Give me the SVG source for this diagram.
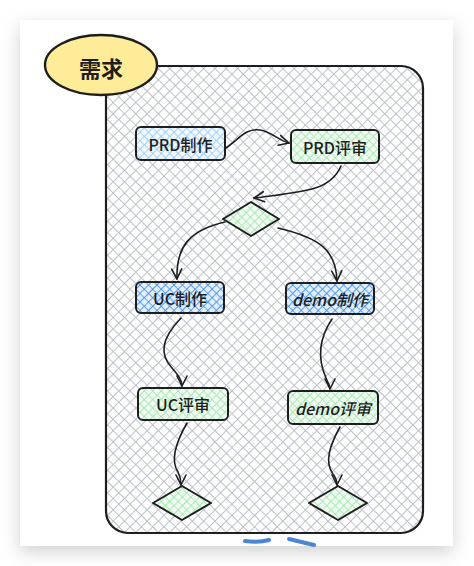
<svg xmlns="http://www.w3.org/2000/svg" width="474" height="566" viewBox="0 0 474 566">
  <defs>
    <filter id="shadow" x="-20%" y="-20%" width="140%" height="140%">
      <feDropShadow dx="0" dy="6" stdDeviation="9" flood-color="#000" flood-opacity="0.18"/>
    </filter>
    <pattern id="hatchGray" width="8" height="8" patternUnits="userSpaceOnUse" patternTransform="rotate(45)">
      <path d="M0,0 H8 M0,0 V8" stroke="#bcc2cb" stroke-width="2" fill="none"/>
    </pattern>
    <pattern id="hatchLightBlue" width="6" height="6" patternUnits="userSpaceOnUse" patternTransform="rotate(45)">
      <rect width="6" height="6" fill="#f2f8fe"/>
      <path d="M0,0 H6 M0,0 V6" stroke="#8ec8fa" stroke-width="1.6" fill="none"/>
    </pattern>
    <pattern id="hatchBlue" width="6" height="6" patternUnits="userSpaceOnUse" patternTransform="rotate(45)">
      <rect width="6" height="6" fill="#e2eefc"/>
      <path d="M0,0 H6 M0,0 V6" stroke="#3a8eef" stroke-width="1.7" fill="none"/>
    </pattern>
    <pattern id="hatchGreen" width="6" height="6" patternUnits="userSpaceOnUse" patternTransform="rotate(45)">
      <rect width="6" height="6" fill="#f2fbf3"/>
      <path d="M0,0 H6 M0,0 V6" stroke="#98e6a4" stroke-width="1.6" fill="none"/>
    </pattern>
    <marker id="arrow" viewBox="0 0 12 12" refX="11" refY="6" markerWidth="12" markerHeight="12" markerUnits="userSpaceOnUse" orient="auto">
      <path d="M1,1 L11,6 L1,11" fill="none" stroke="#1e1e1e" stroke-width="1.6" stroke-linecap="round" stroke-linejoin="round"/>
    </marker>
    <style>
      .node rect, .node path { stroke: #1e1e1e; stroke-width: 2; }
      .label { font-family: "Noto Sans CJK SC", "Noto Sans", sans-serif; font-size: 16px; font-weight: 500; fill: #1e1e1e; text-anchor: middle; dominant-baseline: central; }
      .conn path { fill: none; stroke: #1e1e1e; stroke-width: 1.6; stroke-linecap: round; }
    </style>
  </defs>

  <rect x="0" y="0" width="474" height="566" fill="#ffffff"/>
  <rect x="20" y="20" width="433" height="526" fill="#ffffff" filter="url(#shadow)"/>

  <g id="container">
    <rect x="106" y="66" width="317" height="467" rx="22" fill="url(#hatchGray)" stroke="#1e1e1e" stroke-width="2.2"/>
  </g>

  <g id="title">
    <ellipse cx="101" cy="65" rx="56" ry="30" fill="#ffec99" stroke="#1e1e1e" stroke-width="2.4"/>
    <text x="101" y="67" class="label" style="font-size:22px;font-weight:bold;">需求</text>
  </g>

  <g class="conn" id="connectors">
    <path d="M226,148 C240,138 246,128 260,130 C272,132 278,140 289,143" marker-end="url(#arrow)"/>
    <path d="M341,166 C330,192 300,192 254,198" marker-end="url(#arrow)"/>
    <path d="M225,222 C190,230 176,246 177,279" marker-end="url(#arrow)"/>
    <path d="M278,228 C320,238 336,250 337,281" marker-end="url(#arrow)"/>
    <path d="M181,318 C160,340 160,355 172,368 C178,375 182,380 182,386" marker-end="url(#arrow)"/>
    <path d="M332,319 C318,340 318,360 326,378 C328,383 330,386 330,389" marker-end="url(#arrow)"/>
    <path d="M187,423 C176,442 170,460 178,472 C180,476 181,480 181,485" marker-end="url(#arrow)"/>
    <path d="M340,427 C330,445 324,462 333,474 C336,478 337,482 337,485" marker-end="url(#arrow)"/>
  </g>

  <g id="prd-make" class="node">
    <rect x="136" y="127" width="89" height="33" rx="5" fill="url(#hatchLightBlue)"/>
    <text x="180.5" y="143.5" class="label">PRD制作</text>
  </g>
  <g id="prd-review" class="node">
    <rect x="291" y="130" width="88" height="33" rx="5" fill="url(#hatchGreen)"/>
    <text x="335" y="146.5" class="label">PRD评审</text>
  </g>
  <g id="gate1" class="node">
    <path d="M251,202 L279,219 L251,236 L223,219 Z" stroke-linejoin="round" fill="url(#hatchGreen)"/>
  </g>
  <g id="uc-make" class="node">
    <rect x="136" y="282" width="88" height="31" rx="5" fill="url(#hatchBlue)"/>
    <text x="180" y="297.5" class="label">UC制作</text>
  </g>
  <g id="demo-make" class="node">
    <rect x="286" y="283" width="88" height="31" rx="5" fill="url(#hatchBlue)"/>
    <text x="330" y="298.5" class="label" style="font-style:italic;">demo制作</text>
  </g>
  <g id="uc-review" class="node">
    <rect x="138" y="388" width="90" height="32" rx="5" fill="url(#hatchGreen)"/>
    <text x="183" y="404" class="label">UC评审</text>
  </g>
  <g id="demo-review" class="node">
    <rect x="288" y="391" width="90" height="33" rx="5" fill="url(#hatchGreen)"/>
    <text x="333" y="407.5" class="label" style="font-style:italic;">demo评审</text>
  </g>
  <g id="gate-uc" class="node">
    <path d="M182,486 L211,503 L182,520 L153,503 Z" stroke-linejoin="round" fill="url(#hatchGreen)"/>
  </g>
  <g id="gate-demo" class="node">
    <path d="M338,486 L367,503 L338,520 L309,503 Z" stroke-linejoin="round" fill="url(#hatchGreen)"/>
  </g>

  <g id="partial-marks">
    <path d="M245,541 C253,542 262,542 269,540" fill="none" stroke="#4a86d4" stroke-width="4" stroke-linecap="round"/>
    <path d="M289,539 C297,541 306,543 314,545" fill="none" stroke="#4a86d4" stroke-width="4" stroke-linecap="round"/>
  </g>
</svg>
